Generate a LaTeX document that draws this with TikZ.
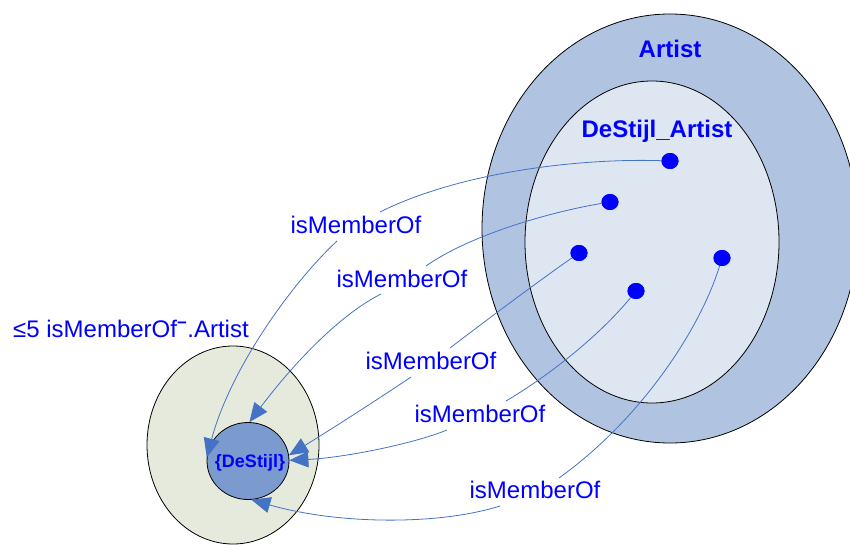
\documentclass[tikz,border=0pt]{standalone}
\usepackage{fontspec}
\setmainfont{Liberation Sans}
\usetikzlibrary{shapes.geometric,arrows.meta}
\definecolor{artistfill}{RGB}{176,196,226}
\definecolor{destijlfill}{RGB}{222,230,242}
\definecolor{groupfill}{RGB}{230,234,220}
\definecolor{singletonfill}{RGB}{123,155,207}
\definecolor{linkblue}{RGB}{68,114,196}
\definecolor{labelblue}{RGB}{0,0,255}

\begin{document}
\begin{tikzpicture}[x=1pt,y=-1pt,
  region/.style={ellipse, draw=black, line width=0.8pt, inner sep=0pt},
  member/.style={ellipse, fill=labelblue, minimum width=17pt, minimum height=16pt, inner sep=0pt},
  rel/.style={font=\fontsize{24}{28}\selectfont, text=labelblue, inner sep=1pt},
  setname/.style={font=\bfseries\fontsize{24}{28}\selectfont, text=labelblue, inner sep=1pt},
  link/.style={draw=linkblue, line width=0.8pt},
  linkarrow/.style={link, -{Triangle[length=19pt,width=16pt]}},
]
\useasboundingbox (0,0) rectangle (850,545);
\clip (0,0) rectangle (850,545);

% concept extensions
\node[region, fill=artistfill, minimum width=376pt, minimum height=429pt] (artist) at (670,228.5) {};
\node[region, fill=destijlfill, minimum width=254pt, minimum height=322pt] (destijl) at (652,242) {};
\node[region, fill=groupfill, minimum width=172pt, minimum height=198pt] (group) at (233,445) {};
\node[region, fill=singletonfill, minimum width=82pt, minimum height=77pt] (c) at (248,461) {};
\node[font=\bfseries\fontsize{18}{22}\selectfont, text=labelblue, inner sep=0pt] (tSingleton) at (250,463) {\{DeStijl\}};

% set names
\node[setname] (tArtist) at (670,49) {Artist};
\node[setname] (tDeStijl) at (657,131) {DeStijl\_Artist};
\node[rel, anchor=west] (tGroup) at (12,329) {≤5 isMemberOf\textsuperscript{\textbf{−}}.Artist};

% members of DeStijl_Artist
\node[member] (d1) at (670,161) {};
\node[member] (d2) at (610,202) {};
\node[member] (d3) at (579,253) {};
\node[member] (d4) at (636,291) {};
\node[member] (d5) at (722,258) {};

% role labels
\node[rel] (m1) at (356,225) {isMemberOf};
\node[rel] (m2) at (402,279) {isMemberOf};
\node[rel] (m3) at (431,361) {isMemberOf};
\node[rel] (m4) at (480,414) {isMemberOf};
\node[rel] (m5) at (535,490) {isMemberOf};

% line ends at the labels
\coordinate (a1) at (380,212);  \coordinate (b1) at (337,241);
\coordinate (a2) at (426,266);  \coordinate (b2) at (381,294);
\coordinate (a3) at (450,348);  \coordinate (b3) at (411,377);
\coordinate (a4) at (506,401);  \coordinate (b4) at (447,430);
\coordinate (a5) at (559,478);  \coordinate (b5) at (500,506);

% isMemberOf links
\draw[link] (d1) .. controls (580,158) and (460,172) .. (a1);
\draw[linkarrow] (b1) .. controls (290,285) and (230,370) .. (c.175);

\draw[link] (d2) .. controls (550,212) and (470,235) .. (a2);
\draw[linkarrow] (b2) .. controls (345,312) and (300,355) .. (c.88);

\draw[link] (d3) .. controls (540,280) and (480,325) .. (a3);
\draw[linkarrow] (b3) .. controls (380,398) and (330,430) .. (c.8);

\draw[link] (d4) .. controls (600,335) and (550,375) .. (a4);
\draw[linkarrow] (b4) .. controls (410,445) and (340,458) .. (c.1);

\draw[link] (d5) .. controls (700,330) and (640,420) .. (a5);
\draw[linkarrow] (b5) .. controls (440,525) and (340,525) .. (c.275);

% keep the member dots above the links
\node[member] at (d1) {};
\node[member] at (d2) {};
\node[member] at (d3) {};
\node[member] at (d4) {};
\node[member] at (d5) {};
\end{tikzpicture}
\end{document}
